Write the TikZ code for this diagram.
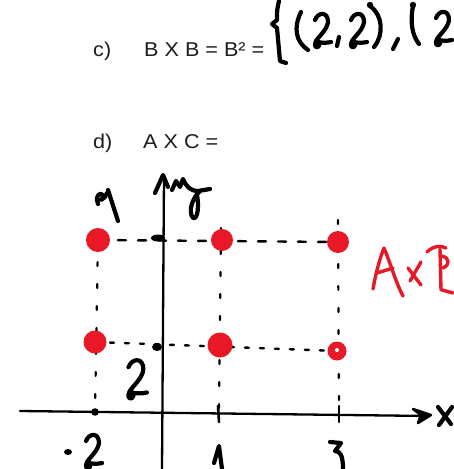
\documentclass[tikz,border=0pt]{standalone}
\usepackage{fontspec}
\setmainfont{Liberation Sans}
\definecolor{penred}{RGB}{232,24,38}
\definecolor{typegray}{RGB}{30,30,30}
\begin{document}
\begin{tikzpicture}[x=1pt,y=-1pt,
  typed/.style={anchor=base west, inner sep=0pt, text=typegray, font=\fontsize{20}{24}\selectfont},
  hand/.style={line width=4.2pt, line cap=round, line join=round},
  redhand/.style={line width=3.4pt, line cap=round, line join=round, draw=penred},
  axisline/.style={line width=2.3pt, line cap=round},
  hdash/.style={line width=2.4pt, line cap=round, dash pattern=on 8pt off 12pt},
  hdots/.style={line width=2.4pt, line cap=round, dash pattern=on 4pt off 11pt},
  vdots/.style={line width=2.2pt, line cap=round, dash pattern=on 4pt off 18pt},
  reddot/.style={circle, fill=penred, inner sep=0pt, minimum size=#1},
  handtwo/.pic={\draw[hand] (3,8) .. controls (6,0) and (16,-1) .. (16,10) .. controls (15,18) and (7,24) .. (4,29) .. controls (2,33) and (3,36) .. (6,35) .. controls (8,34) and (8,31) .. (6,30) .. controls (10,31) and (15,31) .. (19,30);}
]
\useasboundingbox[fill=white] (0,0) rectangle (453,469);

% typed text
\node[typed] (lc) at (93,56) {\scalebox{1.08}[1]{c)}};
\node[typed] (eqc) at (144,56) {\scalebox{1.08}[1]{B X B = B² =}};
\node[typed] (ld) at (93,148) {\scalebox{1.08}[1]{d)}};
\node[typed] (eqd) at (143,148) {\scalebox{1.08}[1]{A X C =}};

% handwritten top
\draw[hand] (279,1) .. controls (277,10) .. (277,20) -- (272,24) -- (277,28) .. controls (279,45) .. (280,61) -- (286,63);
\draw[hand] (301,12) .. controls (293,28) and (296,42) .. (308,50);
\pic (twoa) at (312,12) {handtwo};
\draw[hand] (339,37) -- (337,46);
\pic (twob) at (348,12) {handtwo};
\fill (370,5) circle (3.2);
\draw[hand] (370,6) .. controls (383,15) and (384,35) .. (374,47);
\draw[hand] (398,39) -- (393,49);
\fill (413,5) circle (3.2);
\draw[hand] (413,6) .. controls (410,22) and (412,35) .. (419,44);
\pic (twoc) at (433,10) {handtwo};

% points
\coordinate (c1) at (98,240);
\coordinate (c2) at (222,240);
\coordinate (c3) at (338,242);
\coordinate (c4) at (95,342);
\coordinate (c5) at (220,345);
\coordinate (c6) at (337,351);
\coordinate (t1) at (95,412);
\coordinate (t2) at (219,414);
\coordinate (t3) at (339,415);

% guide lines
\draw[hdash] (c1) -- (c3);
\draw[hdots] (c4) -- (c6);
\draw[vdots] (c1) -- (t1);
\draw[vdots] (221,228) -- (t2);
\draw[vdots] (338,220) -- (t3);

% axes
\coordinate (xs) at (20,411);
\coordinate (xe) at (428,416);
\draw[axisline] (xs) -- (xe);
\filldraw[hand, line width=2.5pt] (413,409) -- (431,415) -- (418,423) -- (421,415) -- cycle;
\coordinate (ys) at (162,469);
\coordinate (ye) at (164,176);
\draw[axisline] (ys) -- (ye);
\draw[hand] (155,193) -- (163,175) -- (168,187);

% axis marks
\fill (t1) circle (3.8);
\draw[hand, line width=2.6pt] (218,406) -- (219,422);
\draw[hand, line width=2.6pt] (339,406) -- (339,422);
\fill (158,238) ellipse (7 and 3.5);
\fill (157,347) ellipse (5 and 4);

% red points
\node[reddot=24pt] (d1) at (c1) {};
\node[reddot=22pt] (d2) at (c2) {};
\node[reddot=22pt] (d3) at (c3) {};
\node[reddot=23pt] (d4) at (c4) {};
\node[reddot=25pt] (d5) at (c5) {};
\node[reddot=19pt] (d6) at (c6) {};
\fill[white] (337,350) circle (2);

% axis labels
\draw[hand] (172,190) -- (176,181) -- (180,187) -- (183,179) .. controls (186,186) and (190,191) .. (198,191) -- (210,189);
\draw[hand] (200,191) .. controls (192,198) and (188,212) .. (193,218) .. controls (198,220) and (199,205) .. (197,195);
\draw[hand] (438,407) -- (451,424);
\draw[hand] (452,407) -- (439,425);
\draw[hand] (98,204) .. controls (96,199) and (97,195) .. (100,194) .. controls (103,193) and (104,198) .. (101,200) .. controls (104,199) and (106,196) .. (107,193);
\draw[hand] (108,190) -- (118,221);

% tick labels
\fill (68,452) ellipse (4 and 3);
\pic (twod) at (83,433) {handtwo};
\pic[scale=1.15] (twoe) at (125,358) {handtwo};
\draw[hand] (214,463) -- (219,446) -- (222,469);
\draw[hand] (330,442) -- (341,443) -- (335,451) .. controls (340,451) and (343,455) .. (343,469);

% red A x B
\draw[redhand] (373,289) .. controls (376,272) and (380,258) .. (384,248) .. controls (390,262) and (396,283) .. (403,296);
\draw[redhand] (377,273) -- (393,268);
\draw[redhand] (408,268) -- (421,285);
\draw[redhand] (421,262) -- (410,281);
\draw[redhand] (427,252) .. controls (433,246) and (441,245) .. (446,248);
\draw[redhand] (440,249) -- (441,290);
\draw[redhand] (442,256) .. controls (450,258) and (450,265) .. (443,268);
\draw[redhand] (442,290) -- (453,293);
\end{tikzpicture}
\end{document}
